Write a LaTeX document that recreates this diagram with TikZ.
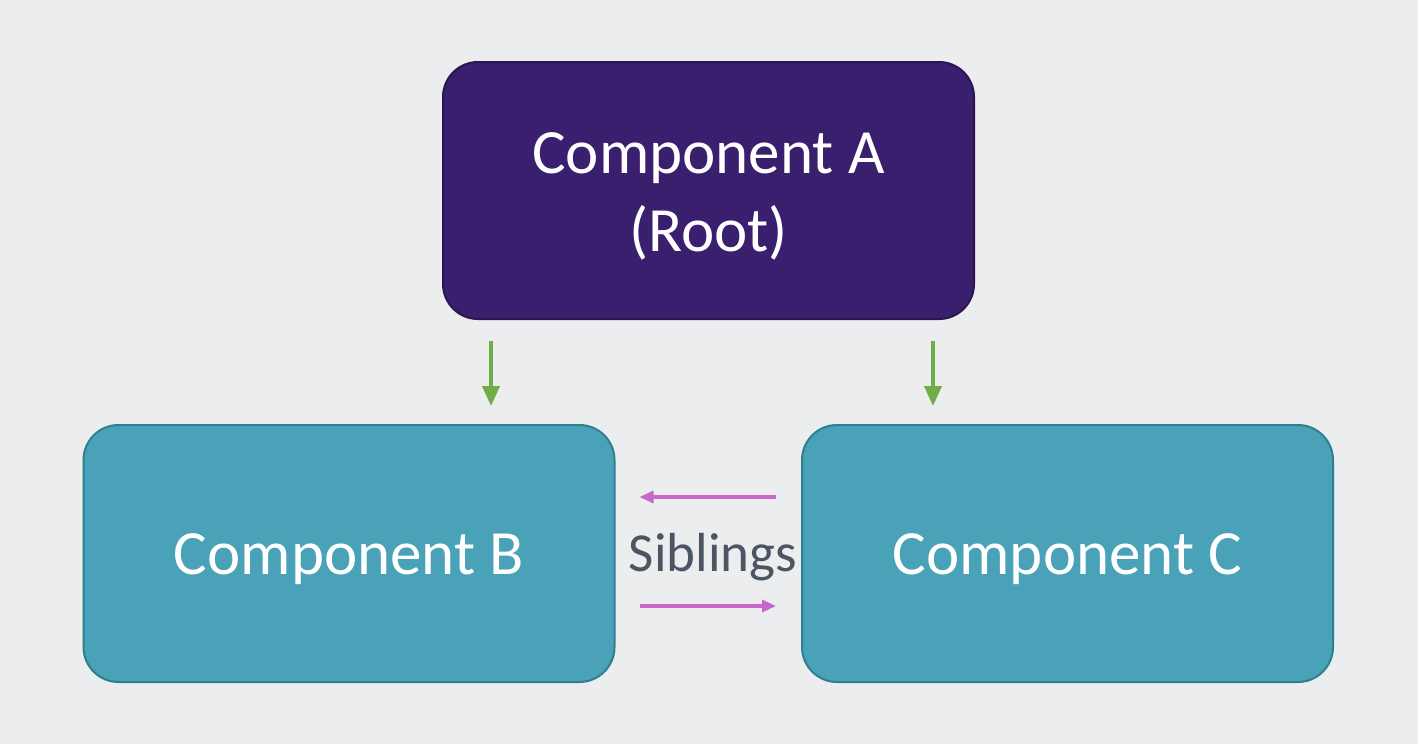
\documentclass[tikz,border=0pt]{standalone}
\usepackage{fontspec}
\setmainfont{Carlito}
\usetikzlibrary{arrows.meta}
\definecolor{bgc}{HTML}{ECEDEF}
\definecolor{purplefill}{HTML}{3B1F6F}
\definecolor{purpleline}{HTML}{2A1652}
\definecolor{tealfill}{HTML}{49A2B7}
\definecolor{tealline}{HTML}{2F7F91}
\definecolor{greenc}{HTML}{70AD47}
\definecolor{pinkc}{HTML}{C866C9}
\definecolor{sibtext}{HTML}{4B5563}
\tikzset{
  compbox/.style={rounded corners=35pt, line width=2pt, minimum width=531pt, minimum height=257pt, inner sep=0pt},
  comptext/.style={text=white, align=center, font=\fontsize{63}{78}\selectfont, inner sep=0pt, yshift=-6pt},
  rootbox/.style={compbox, draw=purpleline, fill=purplefill},
  childbox/.style={compbox, draw=tealline, fill=tealfill},
  greenarrow/.style={draw=greenc, line width=4pt, -{Triangle[length=20pt,width=17pt]}},
  pinkarrow/.style={draw=pinkc, line width=3.2pt, -{Triangle[length=14pt,width=12pt]}},
}
\begin{document}
\begin{tikzpicture}[x=1pt,y=-1pt]
\fill[bgc] (0,0) rectangle (1418,744);
\useasboundingbox (0,0) rectangle (1418,744);
\node[rootbox] (A) at (708.5,190.5) {};
\node[childbox] (B) at (349,553.5) {};
\node[childbox] (C) at (1067.5,553.5) {};
\node[comptext] (At) at (A.center) {Component A\\(Root)};
\node[comptext] (Bt) at (B.center) {Component B};
\node[comptext] (Ct) at (C.center) {Component C};
\node[text=sibtext, font=\fontsize{55}{66}\selectfont, inner sep=0pt] (S) at (713,557) {Siblings};
\coordinate (gx1) at (491,0);
\coordinate (gx2) at (933,0);
\coordinate (py1) at (0,497);
\coordinate (py2) at (0,606);
\draw[greenarrow, shorten <=21pt, shorten >=18pt] (A.south -| gx1) -- (B.north -| gx1);
\draw[greenarrow, shorten <=21pt, shorten >=18pt] (A.south -| gx2) -- (C.north -| gx2);
\draw[pinkarrow, shorten <=25pt, shorten >=24pt] (C.west |- py1) -- (B.east |- py1);
\draw[pinkarrow, shorten <=24pt, shorten >=25pt] (B.east |- py2) -- (C.west |- py2);
\end{tikzpicture}
\end{document}
